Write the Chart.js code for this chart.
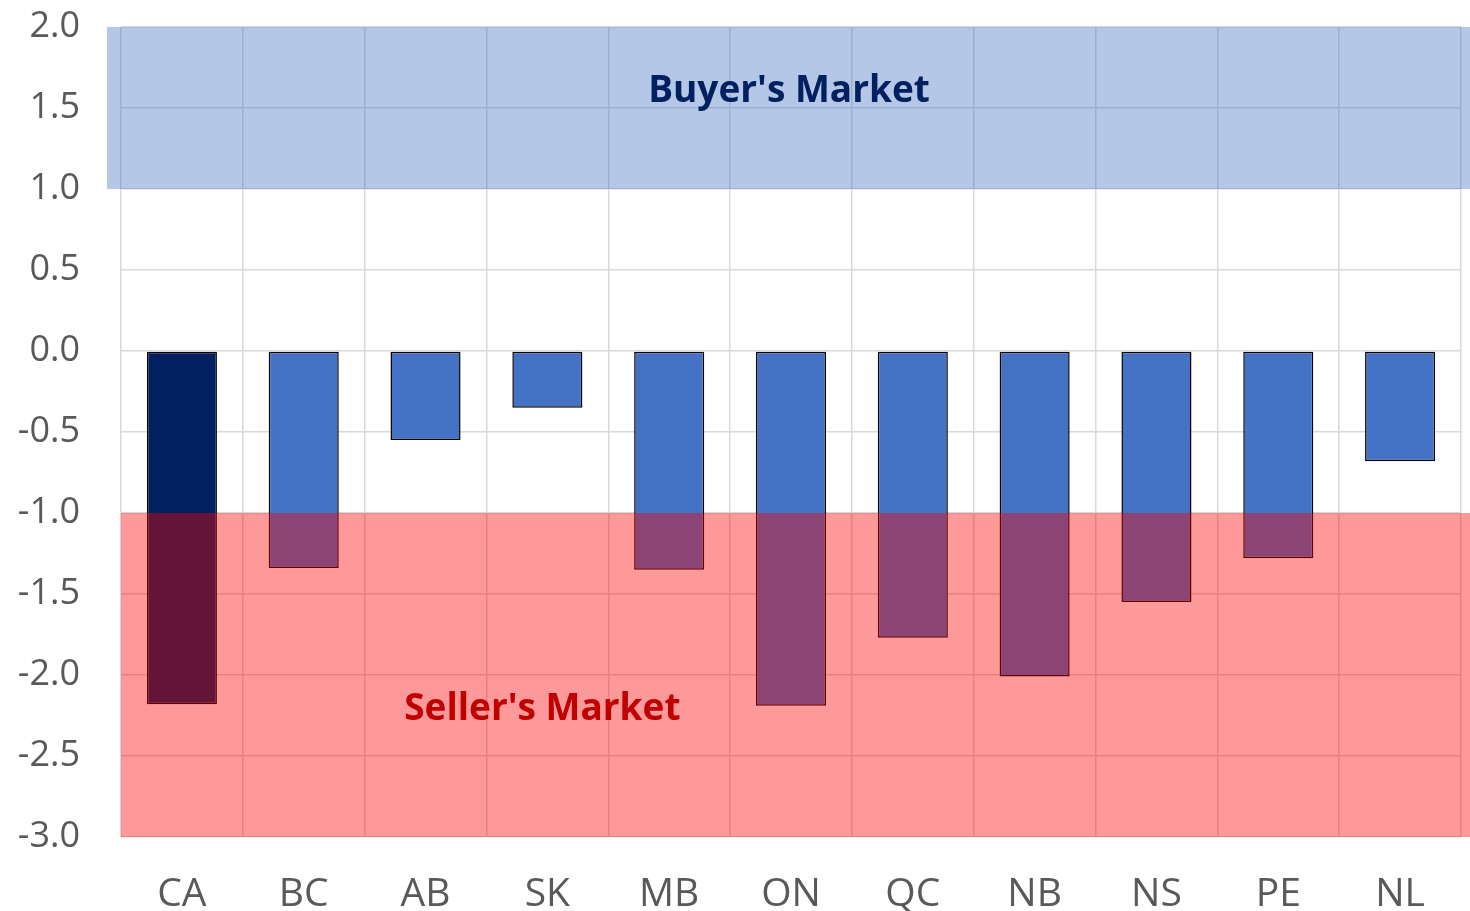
<!DOCTYPE html>
<html>
<head>
<meta charset="utf-8">
<script src="https://cdn.jsdelivr.net/npm/chart.js@4"></script>
<style>
  html, body { margin: 0; padding: 0; background: #fff; }
  #wrap { width: 1470px; height: 911px; }
</style>
</head>
<body>
<div id="wrap"><canvas id="myChart"></canvas></div>
<script>
// provinces + national
const categories = ['CA', 'BC', 'AB', 'SK', 'MB', 'ON', 'QC', 'NB', 'NS', 'PE', 'NL'];
const values = [-2.18, -1.34, -0.55, -0.35, -1.35, -2.19, -1.77, -2.01, -1.55, -1.28, -0.68];
const barColors = ['#002060', '#4472C4', '#4472C4', '#4472C4', '#4472C4', '#4472C4', '#4472C4', '#4472C4', '#4472C4', '#4472C4', '#4472C4'];

// market zones: [from, to]
const buyerZone = [1.0, 2.0];
const sellerZone = [-3.0, -1.0];
const zoneLabels = ["Buyer's Market", "Seller's Market"];

const FONT = "'Open Sans', 'Noto Sans', sans-serif";

// draws the shaded zones on top of the bars, then the zone labels
const zonesPlugin = {
  id: 'zones',
  afterDatasetsDraw(chart) {
    const { ctx, chartArea, scales } = chart;
    const y = scales.y, x = scales.x;
    ctx.save();
    // buyer band (sticks out a bit to the left, like the original)
    let top = y.getPixelForValue(buyerZone[1]);
    let bot = y.getPixelForValue(buyerZone[0]);
    ctx.fillStyle = 'rgba(68,114,196,0.4)';
    ctx.fillRect(chartArea.left - 14, top, chartArea.right - chartArea.left + 23, bot - top);
    // seller band
    top = y.getPixelForValue(sellerZone[1]);
    bot = y.getPixelForValue(sellerZone[0]);
    ctx.fillStyle = 'rgba(250,0,0,0.4)';
    ctx.fillRect(chartArea.left, top, chartArea.right - chartArea.left + 9, bot - top);

    ctx.font = 'bold 37px ' + FONT;
    ctx.textAlign = 'center';
    ctx.textBaseline = 'middle';
    ctx.fillStyle = '#002060';
    ctx.fillText(zoneLabels[0], (chartArea.left + chartArea.right) / 2 - 2, y.getPixelForValue(1.6));
    ctx.fillStyle = '#C00000';
    ctx.fillText(zoneLabels[1], x.getPixelForValue(3) - 5, y.getPixelForValue(-2.21));
    ctx.restore();
  }
};

const ctx = document.getElementById('myChart').getContext('2d');
const myChart = new Chart(ctx, {
  type: 'bar',
  data: {
    labels: categories,
    datasets: [{
      data: values,
      backgroundColor: barColors,
      borderColor: '#000000',
      borderWidth: 1.5,
      borderSkipped: false,
      categoryPercentage: 1.0,
      barPercentage: 0.575
    }]
  },
  options: {
    responsive: true,
    maintainAspectRatio: false,
    animation: false,
    layout: { padding: { top: 27, right: 9, left: 0, bottom: 0 } },
    plugins: {
      legend: { display: false },
      tooltip: { enabled: false }
    },
    scales: {
      x: {
        grid: { color: '#D9D9D9', lineWidth: 1.5, offset: true, drawTicks: false },
        border: { display: false },
        ticks: { color: '#595959', font: { family: FONT, size: 39, lineHeight: 0.9 }, padding: 40 },
        afterFit(scale) {
          scale.height = 74;
        }
      },
      y: {
        min: -3,
        max: 2,
        grid: { color: '#D9D9D9', lineWidth: 1.5, drawTicks: false },
        border: { display: false },
        ticks: {
          stepSize: 0.5,
          color: '#595959',
          font: { family: FONT, size: 36 },
          padding: 41,
          callback: v => v.toFixed(1)
        },
        // fixed axis width; let the layout padding decide the top of the plot
        afterFit(scale) {
          scale.width = 121;
          scale.paddingTop = 0;
          scale.paddingBottom = 0;
        }
      }
    }
  },
  plugins: [zonesPlugin]
});
</script>
</body>
</html>
